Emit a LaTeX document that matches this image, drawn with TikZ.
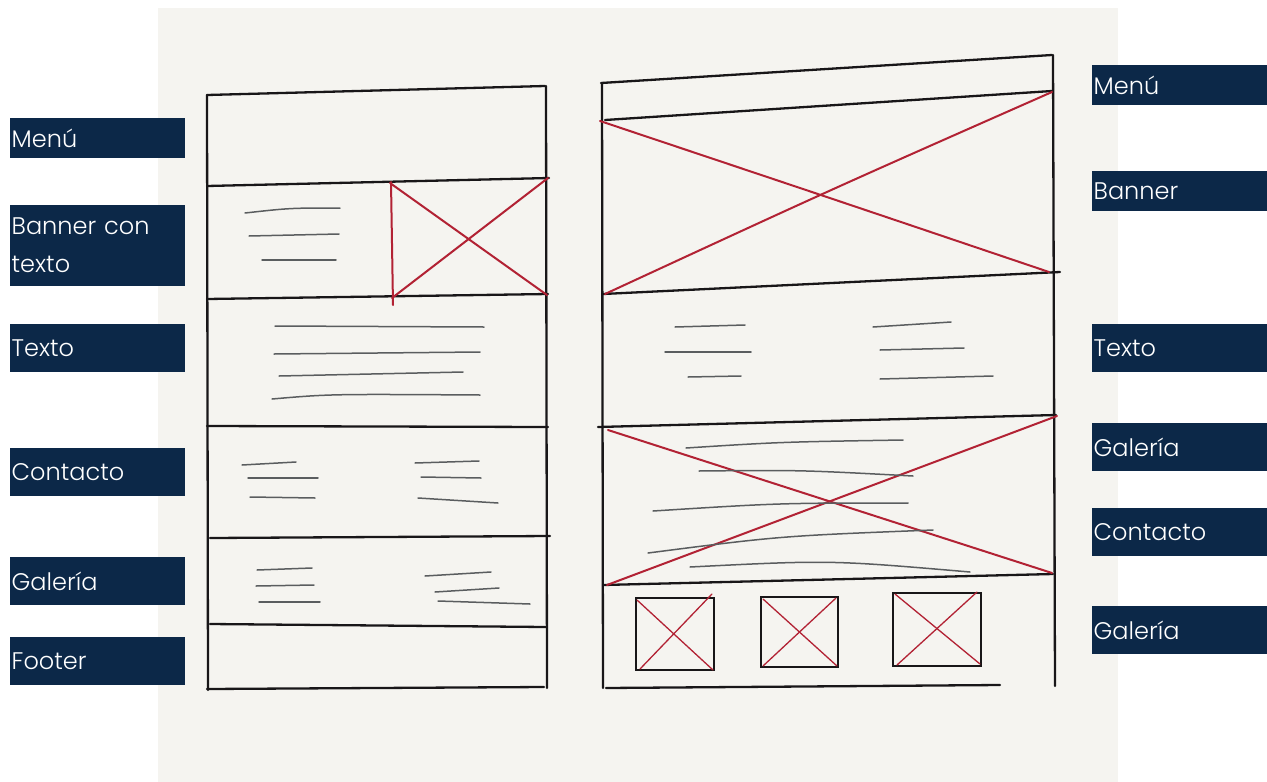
\documentclass[tikz,border=0pt]{standalone}
\usepackage{fontspec}
\newfontfamily\labfont{Poppins Light}
\definecolor{navy}{RGB}{12,40,72}
\definecolor{paper}{RGB}{245,244,240}
\definecolor{pen}{RGB}{24,22,24}
\definecolor{redpen}{RGB}{178,34,52}
\definecolor{pencil}{RGB}{90,93,95}
\tikzset{
  lab/.style={fill=navy, text=white, font=\labfont\fontsize{24}{38}\selectfont, minimum width=175pt, minimum height=40pt, text width=172pt, align=left, inner xsep=1pt, inner ysep=0pt, anchor=north west},
  frame/.style={draw=pen, line width=2.3pt, line cap=round},
  redx/.style={draw=redpen, line width=2pt, line cap=round},
  thinred/.style={draw=redpen, line width=1.3pt, line cap=round},
  pencilline/.style={draw=pencil, line width=1.5pt, line cap=round},
  boxline/.style={draw=pen, line width=2pt, line cap=round}
}
\begin{document}
\begin{tikzpicture}[x=1pt,y=-1pt]
\useasboundingbox (0,0) rectangle (1267,782);
\fill[white] (0,0) rectangle (1267,782);
\fill[paper] (158,8) rectangle (1118,782);

% ---------- left wireframe ----------
\draw[frame] (207,95) -- (545,86);
\draw[frame] (207,95) -- (208,690);
\draw[frame] (546,86) -- (547,688);
\draw[frame] (207,186) -- (549,178);
\draw[frame] (207,299) -- (548,294);
\draw[frame] (207,426) -- (548,427);
\draw[frame] (210,538) -- (550,536);
\draw[frame] (210,624) -- (546,627);
\draw[frame] (207,689) -- (544,687);
% banner image
\draw[redx] (391,182) -- (393,305);
\draw[redx] (390,183) -- (547,295);
\draw[redx] (548,178) -- (392,298);
% banner text
\draw[pencilline] (245,213) .. controls (290,208) .. (340,208);
\draw[pencilline] (249,236) -- (339,234);
\draw[pencilline] (262,260) -- (336,260);
% texto
\draw[pencilline] (275,326) -- (484,327);
\draw[pencilline] (274,354) -- (480,352);
\draw[pencilline] (279,376) -- (463,372);
\draw[pencilline] (272,399) .. controls (330,394) .. (480,395);
% contacto
\draw[pencilline] (242,465) -- (296,462);
\draw[pencilline] (248,478) -- (318,478);
\draw[pencilline] (250,497) -- (315,498);
\draw[pencilline] (415,463) -- (479,461);
\draw[pencilline] (421,477) -- (481,478);
\draw[pencilline] (418,498) -- (498,503);
% galeria
\draw[pencilline] (257,570) -- (312,568);
\draw[pencilline] (256,586) -- (314,585);
\draw[pencilline] (259,602) -- (320,602);
\draw[pencilline] (425,576) -- (491,572);
\draw[pencilline] (435,592) -- (499,588);
\draw[pencilline] (438,601) -- (530,604);

% ---------- right wireframe ----------
\draw[frame] (601,83) -- (1052,55);
\draw[frame] (602,83) -- (603,688);
\draw[frame] (1053,55) -- (1055,686);
\draw[frame] (605,120) -- (1052,91);
\draw[frame] (603,294) -- (1060,272);
\draw[frame] (598,427) -- (1056,415);
\draw[frame] (603,585) -- (1053,574);
\draw[frame] (606,688) -- (1000,685);
% banner X
\draw[redx] (600,121) .. controls (830,198) .. (1049,272);
\draw[redx] (605,294) .. controls (830,190) .. (1052,92);
% gallery/contact X
\draw[redx] (608,430) -- (1052,573);
\draw[redx] (607,585) -- (1057,416);
% texto lines
\draw[pencilline] (675,327) -- (745,325);
\draw[pencilline] (665,352) -- (751,352);
\draw[pencilline] (688,377) -- (741,376);
\draw[pencilline] (873,327) -- (951,322);
\draw[pencilline] (880,350) -- (964,348);
\draw[pencilline] (880,379) -- (993,376);
% section lines
\draw[pencilline] (686,448) .. controls (780,442) .. (903,440);
\draw[pencilline] (699,471) .. controls (800,470) .. (913,476);
\draw[pencilline] (653,511) .. controls (780,503) .. (908,503);
\draw[pencilline] (648,553) .. controls (780,536) .. (933,530);
\draw[pencilline] (690,567) .. controls (830,560) .. (970,572);
% gallery thumbnails
\draw[boxline] (636,598) rectangle (714,670);
\draw[thinred] (637,600) -- (713,670);
\draw[thinred] (640,669) -- (712,594);
\draw[boxline] (761,597) rectangle (838,667);
\draw[thinred] (763,599) -- (837,666);
\draw[thinred] (763,666) -- (836,598);
\draw[boxline] (893,593) rectangle (981,666);
\draw[thinred] (895,594) -- (980,664);
\draw[thinred] (897,665) -- (977,592);

% ---------- labels ----------
\node[lab] (lmenu) at (10,118) {Menú};
\node[lab, minimum height=81pt] (lbanner) at (10,205) {Banner con\\texto};
\node[lab, minimum height=48pt] (ltexto) at (10,324) {Texto};
\node[lab, minimum height=48pt] (lcont) at (10,448) {Contacto};
\node[lab, minimum height=48pt] (lgal) at (10,557) {Galería};
\node[lab, minimum height=48pt] (lfoot) at (10,637) {Footer};

\node[lab] (rmenu) at (1092,65) {Menú};
\node[lab] (rbanner) at (1092,171) {Banner};
\node[lab, minimum height=48pt] (rtexto) at (1092,324) {Texto};
\node[lab, minimum height=48pt] (rgal) at (1092,423) {Galería};
\node[lab, minimum height=48pt] (rcont) at (1092,508) {Contacto};
\node[lab, minimum height=48pt] (rgal2) at (1092,606) {Galería};
\end{tikzpicture}
\end{document}
